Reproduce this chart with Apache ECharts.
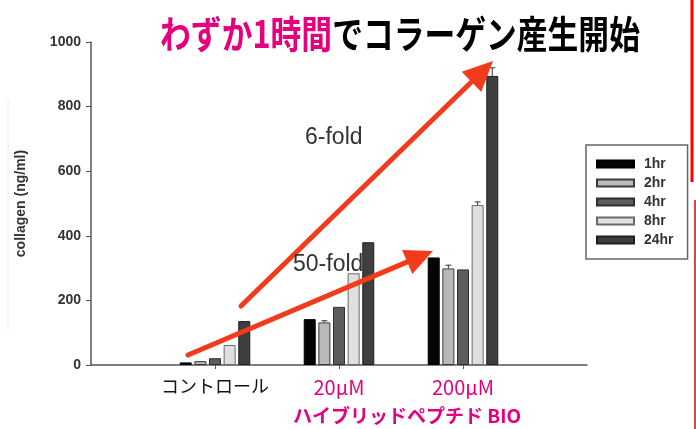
<!DOCTYPE html>
<html>
<head>
<meta charset="utf-8">
<script src="https://cdn.jsdelivr.net/npm/echarts@6/dist/echarts.min.js"></script>
<style>
html,body{margin:0;padding:0;background:#fff;}
#chart{width:696px;height:429px;}
</style>
</head>
<body>
<div id="chart"></div>
<script>
// ---- data ----
var categories = ['', 'コントロール', '20µM', '200µM', ''];
var seriesNames = ['1hr', '2hr', '4hr', '8hr', '24hr'];
var v1hr  = [null, 8, 142, 333, null];
var v2hr  = [null, 12, 132, 299, null];
var v4hr  = [null, 21, 180, 296, null];
var v8hr  = [null, 62, 284, 495, null];
var v24hr = [null, 136, 380, 895, null];
var e2hr  = [0, 0, 5, 10, 0];
var e8hr  = [0, 0, 0, 10, 0];
var e24hr = [0, 0, 0, 25, 0];
var yTicks = [0, 200, 400, 600, 800, 1000];

var values = [v1hr, v2hr, v4hr, v8hr, v24hr];
var errs = [null, e2hr, null, e8hr, e24hr];
var fills = ['#050505', '#b9b9b9', '#5c5c5c', '#e0e0e0', '#3f3f3f'];
var borders = ['#000000', '#3a3a3a', '#2e2e2e', '#6a6a6a', '#1e1e1e'];
var PINK = '#e4007f';
var RED = '#f23a1c';
var BAR_W = 12, GAP = 0.22;
var STEP = BAR_W * (1 + GAP);

var chart = echarts.init(document.getElementById('chart'));

var series = seriesNames.map(function (n, i) {
  return {
    name: n, type: 'bar', data: values[i], barWidth: BAR_W, barGap: (GAP * 100) + '%',
    itemStyle: { color: fills[i], borderColor: borders[i], borderWidth: 1 },
    silent: true
  };
});

var errData = [];
errs.forEach(function (arr, si) {
  if (!arr) return;
  arr.forEach(function (e, ci) {
    if (e > 0 && values[si][ci] != null) errData.push([ci, values[si][ci], e, si]);
  });
});
series.push({
  type: 'custom', name: 'err', silent: true, z: 5,
  data: errData,
  renderItem: function (params, api) {
    var ci = api.value(0), v = api.value(1), e = api.value(2), si = api.value(3);
    var top = api.coord([ci, v + e]);
    var base = api.coord([ci, v]);
    var x = top[0] + (si - 2) * STEP;
    return { type: 'group', children: [
      { type: 'line', shape: { x1: x, y1: base[1], x2: x, y2: top[1] }, style: { stroke: '#333', lineWidth: 1 } },
      { type: 'line', shape: { x1: x - 3, y1: top[1], x2: x + 3, y2: top[1] }, style: { stroke: '#333', lineWidth: 1 } }
    ]};
  }
});

function arrow(x1, y1, x2, y2, len, wid) {
  var dx = x2 - x1, dy = y2 - y1, L = Math.sqrt(dx * dx + dy * dy);
  var ux = dx / L, uy = dy / L, px = -uy, py = ux;
  var bx = x2 - ux * len, by = y2 - uy * len;
  return [
    { type: 'line', shape: { x1: x1, y1: y1, x2: bx + ux * 2, y2: by + uy * 2 }, style: { stroke: RED, lineWidth: 5, lineCap: 'round' }, z: 50 },
    { type: 'polygon', shape: { points: [[x2, y2], [bx + px * wid / 2, by + py * wid / 2], [bx - px * wid / 2, by - py * wid / 2]] }, style: { fill: RED }, z: 50 }
  ];
}

var graphics = [
  { type: 'text', x: 400, y: 34, scaleX: 0.81, z: 60,
    style: { text: '{a|わずか1時間}{b|でコラーゲン産生開始}', align: 'center', verticalAlign: 'middle',
      rich: {
        a: { fill: PINK, fontSize: 38, fontWeight: 'bold', fontFamily: 'Noto Sans CJK JP' },
        b: { fill: '#000', fontSize: 38, fontWeight: 'bold', fontFamily: 'Noto Sans CJK JP' }
      } } },
  { type: 'text', x: 407, y: 416, z: 60,
    style: { text: 'ハイブリッドペプチド BIO', fill: PINK, fontSize: 19, fontWeight: 'bold', fontFamily: 'Noto Sans CJK JP', align: 'center', verticalAlign: 'middle' } },
  { type: 'text', x: 305, y: 138, z: 60,
    style: { text: '6-fold', fill: '#333', fontSize: 23, fontFamily: 'Liberation Sans', align: 'left', verticalAlign: 'middle' } },
  { type: 'text', x: 293, y: 265, z: 60,
    style: { text: '50-fold', fill: '#333', fontSize: 23, fontFamily: 'Liberation Sans', align: 'left', verticalAlign: 'middle' } },
  { type: 'line', shape: { x1: 692, y1: 0, x2: 692, y2: 182 }, style: { stroke: '#ff0000', lineWidth: 3 } },
  { type: 'line', shape: { x1: 695, y1: 200, x2: 695, y2: 429 }, style: { stroke: '#e00000', lineWidth: 1.5 } },
  { type: 'line', shape: { x1: 8, y1: 100, x2: 8, y2: 330 }, style: { stroke: '#ececec', lineWidth: 1 } }
].concat(arrow(241, 306, 493, 61, 30, 28)).concat(arrow(188, 355, 433, 251, 28, 26));

chart.setOption({
  animation: false,
  backgroundColor: '#fff',
  grid: { left: 91, right: 109, top: 42, bottom: 64, containLabel: false },
  legend: {
    data: seriesNames, orient: 'vertical', left: 586, top: 145,
    padding: [12, 14, 12, 10], itemWidth: 37, itemHeight: 7, itemGap: 5,
    borderColor: '#666', borderWidth: 1.5, backgroundColor: '#fff',
    textStyle: { color: '#333', fontSize: 14, fontWeight: 'bold', fontFamily: 'Liberation Sans', lineHeight: 14, padding: [0, 0, 0, 5] },
    icon: 'rect', selectedMode: false
  },
  xAxis: {
    type: 'category', data: categories, boundaryGap: false,
    axisLine: { lineStyle: { color: '#555', width: 1.5 } },
    axisTick: { length: 4, lineStyle: { color: '#555' }, interval: function (i, v) { return v !== ''; } },
    axisLabel: {
      interval: 0, margin: 12,
      formatter: function (v) { return v === 'コントロール' ? '{k|' + v + '}' : (v ? '{p|' + v + '}' : ''); },
      rich: {
        k: { color: '#111', fontSize: 18, fontFamily: 'Noto Sans CJK JP' },
        p: { color: PINK, fontSize: 20, fontFamily: 'Noto Sans CJK JP' }
      }
    },
    splitLine: { show: false }
  },
  yAxis: {
    type: 'value', min: yTicks[0], max: yTicks[yTicks.length - 1], interval: 200,
    name: 'collagen (ng/ml)', nameLocation: 'middle', nameGap: 63, nameRotate: 90,
    nameTextStyle: { color: '#333', fontSize: 14, fontWeight: 'bold', fontFamily: 'Liberation Sans' },
    axisLine: { show: true, lineStyle: { color: '#555', width: 1.5 } },
    axisTick: { show: true, length: 5, lineStyle: { color: '#555' } },
    axisLabel: { color: '#333', fontSize: 14, fontWeight: 'bold', fontFamily: 'Liberation Sans', margin: 10,
      formatter: function (v) { return String(v); } },
    splitLine: { show: false }
  },
  series: series,
  graphic: graphics
});
</script>
</body>
</html>
